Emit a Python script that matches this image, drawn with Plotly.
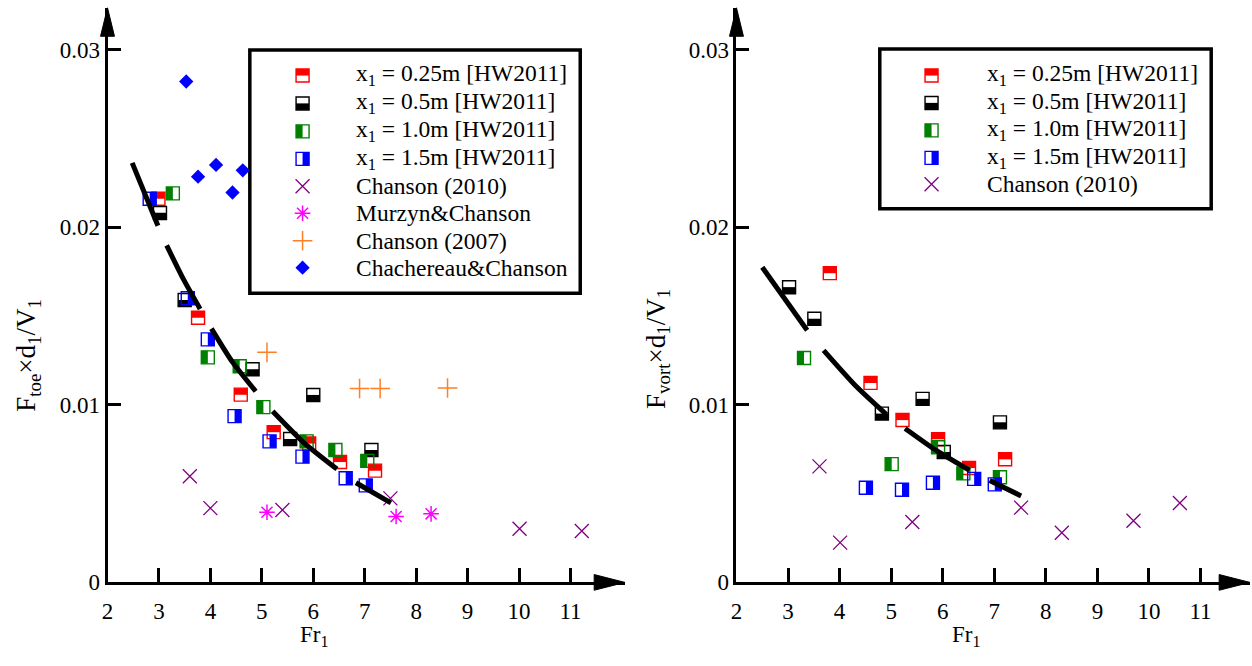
import plotly.graph_objects as go

W, H = 1252, 666
FONT = "Liberation Serif"

# ---------------- data: left panel (F_toe) ----------------
fr_025_toe = [2.99, 3.76, 4.59, 5.23, 5.92, 6.52, 7.20]
f_025_toe = [0.0216, 0.0149, 0.01057, 0.00846, 0.00782, 0.00678, 0.00629]
fr_05_toe = [3.02, 3.50, 4.82, 5.55, 6.00, 7.13]
f_05_toe = [0.0208, 0.0159, 0.0120, 0.00807, 0.01055, 0.00745]
fr_10_toe = [3.27, 3.95, 4.57, 5.03, 5.87, 6.43, 7.05]
f_10_toe = [0.0219, 0.01267, 0.01217, 0.00987, 0.00794, 0.00745, 0.00684]
fr_15_toe = [2.82, 3.56, 3.95, 4.47, 5.15, 5.79, 6.63, 7.02]
f_15_toe = [0.0216, 0.0160, 0.01368, 0.00936, 0.00794, 0.00708, 0.00586, 0.00546]
fr_ch2010_toe = [3.60, 4.00, 5.40, 7.50, 10.01, 11.22]
f_ch2010_toe = [0.00598, 0.00418, 0.00408, 0.00473, 0.00302, 0.00289]
fr_murzyn = [5.10, 7.61, 8.29]
f_murzyn = [0.00395, 0.00371, 0.00386]
fr_ch2007 = [5.10, 6.90, 7.30, 8.61]
f_ch2007 = [0.01295, 0.01092, 0.01092, 0.01094]
fr_chach = [3.53, 3.76, 4.11, 4.43, 4.63]
f_chach = [0.0282, 0.02284, 0.0235, 0.02195, 0.0232]
fr_curve_toe = [2.48, 2.98, None, 3.15, 3.47, 3.80, None, 4.02, 4.43, 4.88, None,
                5.21, 5.82, 6.46, None, 6.83, 7.51]
f_curve_toe = [0.02362, 0.02008, None, 0.01897, 0.0171, 0.01539, None, 0.01429, 0.0124, 0.01076, None,
               0.00964, 0.00786, 0.00638, None, 0.00561, 0.00448]

# ---------------- data: right panel (F_vort) ----------------
fr_025_vort = [3.81, 4.60, 5.22, 5.91, 6.51, 7.21]
f_025_vort = [0.01741, 0.01123, 0.00914, 0.00806, 0.00644, 0.00693]
fr_05_vort = [3.02, 3.51, 4.82, 5.61, 6.02, 7.11]
f_05_vort = [0.01662, 0.01484, 0.0095, 0.01033, 0.00734, 0.00901]
fr_10_vort = [3.31, 5.01, 5.91, 6.40, 7.11]
f_10_vort = [0.01263, 0.00666, 0.00761, 0.00614, 0.00592]
fr_15_vort = [4.51, 5.21, 5.81, 6.61, 7.01]
f_15_vort = [0.00533, 0.00522, 0.00561, 0.00583, 0.00552]
fr_ch2010_vort = [3.61, 4.01, 5.41, 7.52, 8.31, 9.70, 10.60]
f_ch2010_vort = [0.00653, 0.00224, 0.0034, 0.00421, 0.0028, 0.00347, 0.00447]
fr_curve_vort = [2.50, 3.37, None, 3.69, 4.30, 4.91, None, 5.27, 5.89, 6.52, None, 6.91, 7.52]
f_curve_vort = [0.01774, 0.01420, None, 0.01306, 0.0111, 0.00945, None, 0.00867, 0.0074, 0.00631, None,
                0.00574, 0.00487]

x_ticks = [2, 3, 4, 5, 6, 7, 8, 9, 10, 11]
y_ticks = [0, 0.01, 0.02, 0.03]
y_ticktext = ["0", "0.01", "0.02", "0.03"]

legend_left = ["x<sub>1</sub> = 0.25m [HW2011]", "x<sub>1</sub> = 0.5m [HW2011]",
               "x<sub>1</sub> = 1.0m [HW2011]", "x<sub>1</sub> = 1.5m [HW2011]",
               "Chanson (2010)", "Murzyn&Chanson", "Chanson (2007)", "Chachereau&Chanson"]
legend_right = legend_left[:5]

RED, BLACK, GREEN, BLUE = "#ff0000", "#000000", "#008000", "#0000ff"
PURPLE, MAGENTA, ORANGE = "#800080", "#ff00ff", "#ff7f27"

# ---------------- geometry (pixels) ----------------
Y0_PX, YTOP_PX = 594, 8
PX_PER_Y = (594 - 50.5) / 0.03
Y_TOP = (Y0_PX - YTOP_PX) / PX_PER_Y
L_X0, L_X1, L_XMAX = 102, 622, 12.06
R_X0, R_X1, R_XMAX = 734, 1250, 11.96
PX_PER_XL = (L_X1 - L_X0) / (L_XMAX - 2)
PX_PER_XR = (R_X1 - R_X0) / (R_XMAX - 2)
S = 13  # square marker size in px


def px_x(px):
    return px / W


def px_y(py):
    return 1 - py / H


fig = go.Figure()


def half_square(xs, ys, color, half, xa, ya, pxx, pxy):
    fig.add_trace(go.Scatter(x=xs, y=ys, xaxis=xa, yaxis=ya, mode="markers", hoverinfo="skip",
                             marker=dict(symbol="square-open", size=S, color=color,
                                         line=dict(width=1.4, color=color))))
    off = S / 4.0
    if half in ("top", "bottom"):
        d = off / pxy * (1 if half == "top" else -1)
        fx = list(xs)
        fy = [v + d for v in ys]
        sym = "line-ew"
    else:
        d = off / pxx * (1 if half == "right" else -1)
        fx = [v + d for v in xs]
        fy = list(ys)
        sym = "line-ns"
    fig.add_trace(go.Scatter(x=fx, y=fy, xaxis=xa, yaxis=ya, mode="markers", hoverinfo="skip",
                             marker=dict(symbol=sym, size=S / 1.4, color=color,
                                         line=dict(width=S / 2.0, color=color))))


def simple(xs, ys, color, symbol, size, lw, xa, ya):
    fig.add_trace(go.Scatter(x=xs, y=ys, xaxis=xa, yaxis=ya, mode="markers", hoverinfo="skip",
                             marker=dict(symbol=symbol, size=size, color=color,
                                         line=dict(width=lw, color=color))))


# ---- left panel
xa, ya = "x", "y"
simple(fr_chach, f_chach, BLUE, "diamond", 11, 0, xa, ya)
simple(fr_ch2010_toe, f_ch2010_toe, PURPLE, "x-thin-open", 14, 1.3, xa, ya)
simple(fr_murzyn, f_murzyn, MAGENTA, "asterisk-open", 13, 1.5, xa, ya)
simple(fr_ch2007, f_ch2007, ORANGE, "cross-thin-open", 14, 1.5, xa, ya)
half_square(fr_025_toe, f_025_toe, RED, "top", xa, ya, PX_PER_XL, PX_PER_Y)
half_square(fr_05_toe, f_05_toe, BLACK, "bottom", xa, ya, PX_PER_XL, PX_PER_Y)
half_square(fr_10_toe, f_10_toe, GREEN, "left", xa, ya, PX_PER_XL, PX_PER_Y)
half_square(fr_15_toe, f_15_toe, BLUE, "right", xa, ya, PX_PER_XL, PX_PER_Y)
fig.add_trace(go.Scatter(x=fr_curve_toe, y=f_curve_toe, xaxis=xa, yaxis=ya, mode="lines",
                         line=dict(color="black", width=5, shape="spline", smoothing=0.6),
                         connectgaps=False, hoverinfo="skip"))

# ---- right panel
xa, ya = "x2", "y2"
simple(fr_ch2010_vort, f_ch2010_vort, PURPLE, "x-thin-open", 14, 1.3, xa, ya)
half_square(fr_025_vort, f_025_vort, RED, "top", xa, ya, PX_PER_XR, PX_PER_Y)
half_square(fr_05_vort, f_05_vort, BLACK, "bottom", xa, ya, PX_PER_XR, PX_PER_Y)
half_square(fr_10_vort, f_10_vort, GREEN, "left", xa, ya, PX_PER_XR, PX_PER_Y)
half_square(fr_15_vort, f_15_vort, BLUE, "right", xa, ya, PX_PER_XR, PX_PER_Y)
fig.add_trace(go.Scatter(x=fr_curve_vort, y=f_curve_vort, xaxis=xa, yaxis=ya, mode="lines",
                         line=dict(color="black", width=5, shape="spline", smoothing=0.6),
                         connectgaps=False, hoverinfo="skip"))

# ---- legend swatches on a pixel overlay axis
xa, ya = "x3", "y3"
row_l = [77, 105.5, 134, 162, 190, 217.5, 245.5, 273]
row_r = [77, 105, 133, 161, 188]
sw_l, sw_r = 298, 930
txt_l, txt_r = 350, 984
halves = [("top", RED), ("bottom", BLACK), ("left", GREEN), ("right", BLUE)]
for (h, c), yl, yr in zip(halves, row_l[:4], row_r[:4]):
    half_square([sw_l, sw_r], [yl, yr], c, h, xa, ya, 1.0, -1.0)
simple([sw_l, sw_r], [row_l[4], row_r[4]], PURPLE, "x-thin-open", 14, 1.3, xa, ya)
simple([sw_l], [row_l[5]], MAGENTA, "asterisk-open", 13, 1.5, xa, ya)
simple([sw_l], [row_l[6]], ORANGE, "cross-thin-open", 14, 1.5, xa, ya)
simple([sw_l], [row_l[7]], BLUE, "diamond", 11, 0, xa, ya)

annotations = []
for t, yy in zip(legend_left, row_l):
    annotations.append(dict(x=px_x(txt_l), y=px_y(yy), xref="paper", yref="paper", text=t,
                            showarrow=False, xanchor="left", yanchor="middle",
                            font=dict(family=FONT, size=23.5, color="black")))
for t, yy in zip(legend_right, row_r):
    annotations.append(dict(x=px_x(txt_r), y=px_y(yy), xref="paper", yref="paper", text=t,
                            showarrow=False, xanchor="left", yanchor="middle",
                            font=dict(family=FONT, size=23.5, color="black")))

# axis titles
for cx in (310, 965):
    annotations.append(dict(x=px_x(cx), y=px_y(649), xref="paper", yref="paper", text="Fr<sub>1</sub>",
                            showarrow=False, xanchor="center", yanchor="middle",
                            font=dict(family=FONT, size=23, color="black")))
annotations.append(dict(x=px_x(22), y=px_y(362), xref="paper", yref="paper",
                        text="F<sub>toe</sub>×d<sub>1</sub>/V<sub>1</sub>", textangle=-90,
                        showarrow=False, xanchor="center", yanchor="middle",
                        font=dict(family=FONT, size=27, color="black")))
annotations.append(dict(x=px_x(655), y=px_y(356), xref="paper", yref="paper",
                        text="F<sub>vort</sub>×d<sub>1</sub>/V<sub>1</sub>", textangle=-90,
                        showarrow=False, xanchor="center", yanchor="middle",
                        font=dict(family=FONT, size=27, color="black")))


def P(px, py):
    return f"{px_x(px):.5f},{px_y(py):.5f}"


shapes = []
# legend boxes
shapes.append(dict(type="rect", xref="paper", yref="paper", x0=px_x(245), x1=px_x(577),
                   y0=px_y(299), y1=px_y(51), line=dict(color="black", width=3.5),
                   fillcolor="white", layer="below"))
shapes.append(dict(type="rect", xref="paper", yref="paper", x0=px_x(878), x1=px_x(1211),
                   y0=px_y(213), y1=px_y(50), line=dict(color="black", width=3.5),
                   fillcolor="white", layer="below"))
# arrow heads
for x0, x1 in ((L_X0, L_X1), (R_X0, R_X1)):
    shapes.append(dict(type="path", xref="paper", yref="paper", layer="above",
                       path=f"M{P(x1, Y0_PX)} L{P(x1 - 31, Y0_PX - 8)} L{P(x1 - 31, Y0_PX + 8)} Z",
                       fillcolor="black", line=dict(color="black", width=1)))
    shapes.append(dict(type="path", xref="paper", yref="paper", layer="above",
                       path=f"M{P(x0, YTOP_PX)} L{P(x0 - 7, YTOP_PX + 29)} L{P(x0 + 7, YTOP_PX + 29)} Z",
                       fillcolor="black", line=dict(color="black", width=1)))

ydom = [px_y(Y0_PX), px_y(YTOP_PX)]
xcommon = dict(tickvals=x_ticks, ticks="inside", ticklen=14, tickwidth=2.5, tickcolor="black",
               showline=True, linewidth=3, linecolor="black", showgrid=False, zeroline=False,
               ticklabelstandoff=6,
               tickfont=dict(family=FONT, size=23, color="black"), fixedrange=True)
ycommon = dict(tickvals=y_ticks, ticktext=y_ticktext, range=[0, Y_TOP], domain=ydom,
               ticks="inside", ticklen=13, tickwidth=2.5, tickcolor="black",
               showline=True, linewidth=3, linecolor="black", showgrid=False, zeroline=False,
               tickfont=dict(family=FONT, size=23, color="black"), fixedrange=True)

fig.update_layout(
    width=W, height=H, margin=dict(l=0, r=0, t=0, b=0),
    paper_bgcolor="white", plot_bgcolor="rgba(0,0,0,0)", showlegend=False,
    xaxis=dict(domain=[px_x(L_X0), px_x(L_X1)], range=[2, L_XMAX], anchor="y", **xcommon),
    yaxis=dict(anchor="x", **ycommon),
    xaxis2=dict(domain=[px_x(R_X0), px_x(R_X1)], range=[2, R_XMAX], anchor="y2", **xcommon),
    yaxis2=dict(anchor="x2", **ycommon),
    xaxis3=dict(domain=[0, 1], range=[0, W], anchor="y3", visible=False, fixedrange=True),
    yaxis3=dict(domain=[0, 1], range=[H, 0], anchor="x3", visible=False, fixedrange=True),
    annotations=annotations, shapes=shapes,
)

fig.write_html("out.html", config={"displayModeBar": False},
               post_script="document.body.style.margin='0';document.body.style.overflow='hidden';")
